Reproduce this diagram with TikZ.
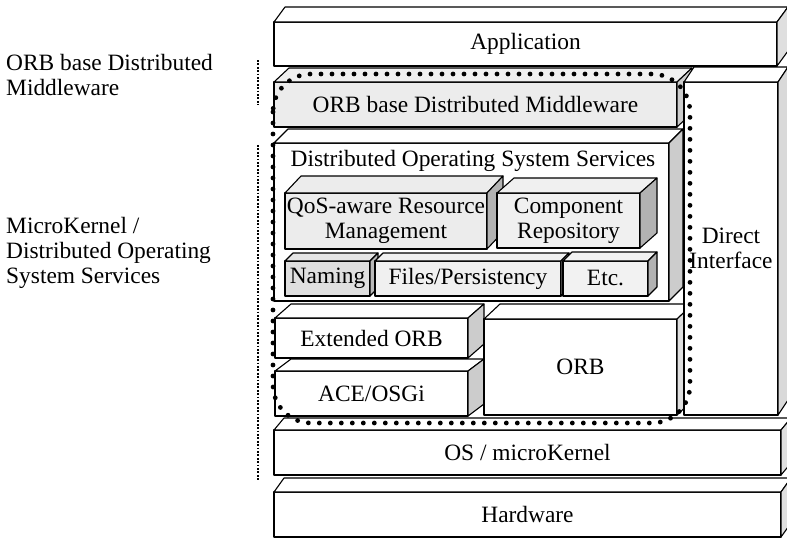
\documentclass[tikz,border=0pt]{standalone}
\usepackage{fontspec}
\setmainfont{Liberation Serif}
\usetikzlibrary{calc}
\newcommand\lbl{\fontsize{23.4}{25}\selectfont}
\tikzset{
  x=1pt, y=-1pt,
  edge/.style={draw=black, line width=1.1pt, line join=round},
  cube/.style={edge, anchor=north west, inner sep=0pt, outer sep=0pt, align=center, font=\lbl},
  plain/.style={inner sep=0pt, align=center, font=\lbl},
  bigdots/.style={draw=black, line width=4.8pt, line cap=round, dash pattern=on 0pt off 11pt},
  thindots/.style={draw=black, line width=2.2pt, dash pattern=on 1.8pt off 1.6pt},
}
% #1 node, #2 dx, #3 dy, #4 side fill, #5 top fill
\newcommand\cubefaces[5]{%
  \draw[edge, fill=#5] (#1.north west) -- ++(#2,-#3) -- ($(#1.north east)+(#2,-#3)$) -- (#1.north east) -- cycle;
  \draw[edge, fill=#4] (#1.north east) -- ++(#2,-#3) -- ($(#1.south east)+(#2,-#3)$) -- (#1.south east) -- cycle;}
\begin{document}
\begin{tikzpicture}
\useasboundingbox[fill=white] (0,0) rectangle (787,538);

% left labels
\node[anchor=west, align=left, inner sep=0pt, font=\lbl] (labmw) at (6,75) {ORB base Distributed\\Middleware};
\node[anchor=west, align=left, inner sep=0pt, font=\lbl] (labdos) at (6,253) {MicroKernel /\\Distributed Operating\\System Services};
\coordinate (d1a) at (258,60); \coordinate (d1b) at (258,105);
\coordinate (d2a) at (258,145); \coordinate (d2b) at (258,480);
\draw[thindots] (d1a) -- (d1b);
\draw[thindots] (d2a) -- (d2b);

% Hardware
\node[cube, fill=white, minimum width=507, minimum height=45] (hw) at (274,492) {Hardware};
\cubefaces{hw}{10}{14}{gray!25}{white}
% OS
\node[cube, fill=white, minimum width=507, minimum height=45] (os) at (274,430) {OS / microKernel};
\cubefaces{os}{10}{12}{gray!25}{white}
% ACE/OSGi
\node[cube, fill=white, minimum width=193, minimum height=45] (ace) at (275,371) {ACE/OSGi};
\cubefaces{ace}{16}{12}{gray!40}{white}
% Extended ORB
\node[cube, fill=white, minimum width=193, minimum height=40] (eorb) at (275,318) {Extended ORB};
\cubefaces{eorb}{16}{14}{gray!40}{white}
% ORB
\node[cube, fill=white, minimum width=193, minimum height=96] (orb) at (484,319) {ORB};
\cubefaces{orb}{16}{15}{gray!25}{white}
% DOS services
\node[cube, fill=white, minimum width=395, minimum height=158] (dos) at (274,143) {};
\cubefaces{dos}{14}{14}{gray!40}{white}
\node[plain] (dostitle) at (473,161) {Distributed Operating System Services};
% QoS
\node[cube, fill=gray!15, minimum width=202, minimum height=56] (qos) at (285,193) {QoS-aware Resource\\Management};
\cubefaces{qos}{16}{17}{gray!60}{gray!15}
% Component
\node[cube, fill=gray!12, minimum width=143, minimum height=55] (comp) at (497,193) {Component\\Repository};
\cubefaces{comp}{17}{15}{gray!60}{gray!12}
% Naming
\node[cube, fill=gray!25, minimum width=85, minimum height=35] (nam) at (285,261) {Naming};
\cubefaces{nam}{8}{8}{gray!55}{gray!20}
% Files
\node[cube, fill=gray!12, minimum width=186, minimum height=35] (files) at (375,261) {Files/Persistency};
\cubefaces{files}{8}{8}{gray!45}{gray!12}
% Etc
\node[cube, fill=gray!10, minimum width=85, minimum height=35] (etc) at (563,261) {Etc.};
\cubefaces{etc}{9}{9}{gray!60}{gray!10}
% ORB base Distributed Middleware
\node[cube, fill=gray!15, minimum width=403, minimum height=45] (mw) at (274,82) {ORB base Distributed Middleware};
\cubefaces{mw}{15}{14}{gray!40}{gray!12}
% Application
\node[cube, fill=white, minimum width=503, minimum height=44] (app) at (274,22) {Application};
\cubefaces{app}{11}{15}{gray!25}{white}
% Direct Interface
\node[cube, fill=white, minimum width=94, minimum height=333] (di) at (684,82) {Direct\\Interface};
\cubefaces{di}{10}{15}{gray!30}{white}

% dotted outline of distributed middleware
\coordinate (ol) at (273,74);
\coordinate (or) at (690,423);
\draw[bigdots, rounded corners=38pt] (ol) rectangle (or);
\end{tikzpicture}
\end{document}
